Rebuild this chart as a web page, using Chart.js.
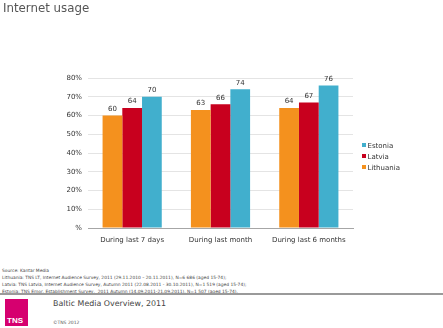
<!DOCTYPE html>
<html>
<head>
<meta charset="utf-8">
<script src="https://cdn.jsdelivr.net/npm/chart.js@4"></script>
<style>
  body { margin: 0; background: #fff; font-family: "DejaVu Sans", sans-serif; }
  #wrap { position: relative; width: 443px; height: 328px; overflow: hidden; }
  #title { position: absolute; left: 3px; top: 1px; font-size: 11.8px; color: #555; }
  #chart { position: absolute; left: 0; top: 0; }
  #legend { position: absolute; left: 362px; top: 141px; font-size: 7px; color: #333; }
  #legend div { height: 11.2px; line-height: 11.2px; white-space: nowrap; }
  #legend span { display: inline-block; width: 4px; height: 4px; margin-right: 1.5px; vertical-align: 1px; }
  #source { position: absolute; left: 2px; top: 267px; font-size: 4.4px; line-height: 7px; color: #444; white-space: nowrap; }
  #rule { position: absolute; left: 0; top: 293px; width: 443px; height: 1.5px; background: #9a9a9a; }
  #logo { position: absolute; left: 5px; top: 299px; width: 23px; height: 27px; background: #d6006f; }
  #logo b { position: absolute; left: 2px; bottom: 1px; color: #fff; font-size: 8px; font-family: "Liberation Sans", sans-serif; }
  #footer { position: absolute; left: 53px; top: 299px; font-size: 7.9px; color: #444; }
  #copy { position: absolute; left: 53px; top: 320px; font-size: 4.5px; color: #555; }
</style>
</head>
<body>
<div id="wrap">
  <canvas id="chart" width="443" height="260"></canvas>
  <div id="title">Internet usage</div>
  <div id="legend"></div>
  <div id="source">
    Source: Kantar Media<br>
    Lithuania: TNS LT, Internet Audience Survey, 2011 (29.11.2010 – 20.11.2011), N=6 686 (aged 15-74);<br>
    Latvia: TNS Latvia, Internet Audience Survey, Autumn 2011 (22.08.2011 - 30.10.2011), N=1 519 (aged 15-74);<br>
    Estonia: TNS Emor, Establishment Survey,&nbsp; 2011 Autumn (14.09.2011-21.09.2011), N=1 507 (aged 15-74).
  </div>
  <div id="rule"></div>
  <div id="logo"><b>TNS</b></div>
  <div id="footer">Baltic Media Overview, 2011</div>
  <div id="copy">©TNS 2012</div>
</div>
<script>
// Chart data
const categories = ["During last 7 days", "During last month", "During last 6 months"];
const lithuania = [60, 63, 64];
const latvia = [64, 66, 67];
const estonia = [70, 74, 76];
const yTickLabels = ["%", "10%", "20%", "30%", "40%", "50%", "60%", "70%", "80%"];

const seriesNames = ["Lithuania", "Latvia", "Estonia"];
const seriesColors = ["#f4911e", "#c8001e", "#41afcd"];

// legend is listed top-down in reverse order, like the original
const legend = document.getElementById("legend");
for (let i = seriesNames.length - 1; i >= 0; i--) {
    let row = document.createElement("div");
    row.innerHTML = '<span style="background:' + seriesColors[i] + '"></span>' + seriesNames[i];
    legend.appendChild(row);
}

// value labels above each bar
const valueLabels = {
    id: "valueLabels",
    afterDatasetsDraw(chart) {
        const ctx = chart.ctx;
        ctx.save();
        ctx.font = "7px 'DejaVu Sans'";
        ctx.fillStyle = "#333";
        ctx.textAlign = "center";
        ctx.textBaseline = "bottom";
        chart.data.datasets.forEach(function (ds, i) {
            chart.getDatasetMeta(i).data.forEach(function (bar, j) {
                ctx.fillText(ds.data[j], bar.x, bar.y - 3);
            });
        });
        ctx.restore();
    }
};

const seriesData = [lithuania, latvia, estonia];

new Chart(document.getElementById("chart"), {
    type: "bar",
    data: {
        labels: categories,
        datasets: seriesNames.map(function (name, i) {
            return {
                label: name,
                data: seriesData[i],
                backgroundColor: seriesColors[i],
                categoryPercentage: 0.67,
                barPercentage: 1.0
            };
        })
    },
    options: {
        responsive: false,
        animation: false,
        layout: { padding: { left: 0, right: 90, top: 78, bottom: 0 } },
        plugins: { legend: { display: false }, tooltip: { enabled: false } },
        scales: {
            x: {
                grid: { display: false, drawTicks: false },
                border: { display: true, color: "#a6a6a6" },
                ticks: { color: "#333", font: { family: "DejaVu Sans", size: 7 }, padding: 8, maxRotation: 0 },
                afterFit: function (scale) { scale.height = 32; }
            },
            y: {
                min: 0,
                max: 80,
                grid: { color: "#e4e4e4", drawTicks: false },
                border: { display: false },
                ticks: {
                    stepSize: 10,
                    color: "#333",
                    padding: 6,
                    font: { family: "DejaVu Sans", size: 7 },
                    callback: function (v, idx) { return yTickLabels[idx]; }
                },
                afterFit: function (scale) { scale.width = 88; }
            }
        }
    },
    plugins: [valueLabels]
});
</script>
</body>
</html>
